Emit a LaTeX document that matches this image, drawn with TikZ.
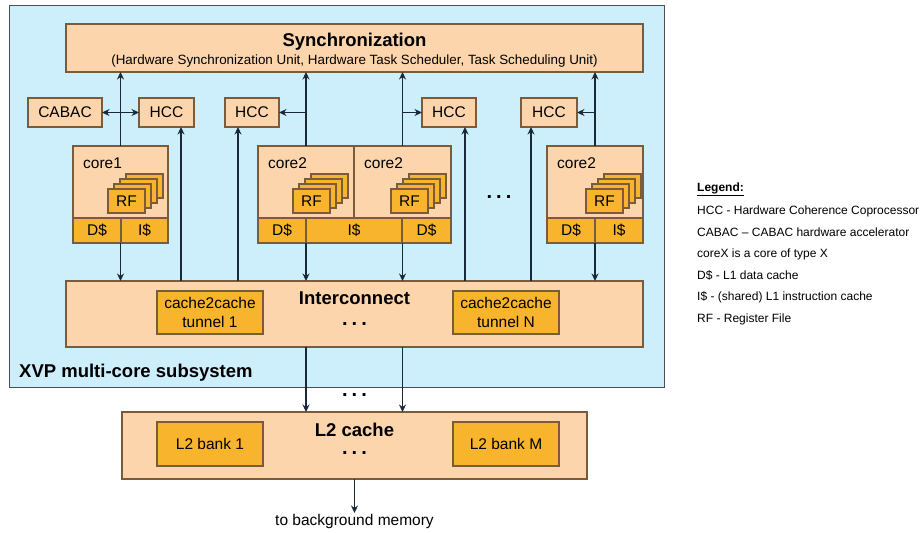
\documentclass[tikz,border=0pt]{standalone}
\usepackage{fontspec}
\setmainfont{Liberation Sans}
\usetikzlibrary{arrows.meta,calc}
\definecolor{bluebg}{HTML}{CDEEFB}
\definecolor{peach}{HTML}{FCD5AC}
\definecolor{orng}{HTML}{F9B42D}
\definecolor{bord}{HTML}{7A5C3C}
\definecolor{arrc}{HTML}{1B2838}
\definecolor{outbord}{HTML}{4A4F55}
\begin{document}
\begin{tikzpicture}[x=1pt,y=-1pt,
  pbox/.style={draw=bord, fill=peach, line width=1.1pt, inner sep=0pt, outer sep=0pt, anchor=north west},
  obox/.style={draw=bord, fill=orng, line width=1.1pt, inner sep=0pt, outer sep=0pt, anchor=north west},
  lbl/.style={font=\fontsize{15.5}{19}\selectfont},
  big/.style={font=\bfseries\fontsize{18.5}{22}\selectfont},
  dots/.style={font=\bfseries\fontsize{20}{22}\selectfont, inner sep=0pt},
  leg/.style={font=\fontsize{12}{14}\selectfont, anchor=west, inner sep=0pt},
  arr/.style={draw=arrc, line width=1.6pt, -{Stealth[length=7.5pt,width=7pt]}},
  darr/.style={draw=arrc, line width=1.6pt, {Stealth[length=7.5pt,width=7pt]}-{Stealth[length=7.5pt,width=7pt]}},
  ]
\useasboundingbox (0,0) rectangle (922,533);
% outer subsystem
\node[draw=outbord, fill=bluebg, line width=1pt, inner sep=0pt, outer sep=0pt, anchor=north west,
  minimum width=655pt, minimum height=382pt] (xvp) at (9,5) {};
\node[big, anchor=west, inner sep=0pt] (xvpl) at (19,373) {XVP multi-core subsystem};
% synchronization
\node[pbox, minimum width=577pt, minimum height=48pt] (sync) at (66,24) {};
\node[big, inner sep=0pt] (synct) at (354.5,42) {Synchronization};
\node[font=\fontsize{13.4}{16}\selectfont, inner sep=0pt] (syncs) at (354.5,61)
  {(Hardware Synchronization Unit, Hardware Task Scheduler, Task Scheduling Unit)};
% CABAC and HCCs
\node[pbox, lbl, minimum width=74pt, minimum height=29pt] (cabac) at (28,98) {CABAC};
\node[pbox, lbl, minimum width=55pt, minimum height=29pt] (hcc1) at (139,98) {HCC};
\node[pbox, lbl, minimum width=54pt, minimum height=29pt] (hcc2) at (225,98) {HCC};
\node[pbox, lbl, minimum width=54pt, minimum height=29pt] (hcc3) at (422,98) {HCC};
\node[pbox, lbl, minimum width=56pt, minimum height=29pt] (hcc4) at (521,98) {HCC};
% cores
\node[pbox, minimum width=95pt, minimum height=97pt] (core1) at (73,146) {};
\node[pbox, minimum width=96pt, minimum height=97pt] (core2a) at (258,146) {};
\node[pbox, minimum width=97pt, minimum height=97pt] (core2b) at (354,146) {};
\node[pbox, minimum width=96pt, minimum height=97pt] (core3) at (547,146) {};
\node[lbl, anchor=west, inner sep=0pt] (core1l) at (83,163) {core1};
\node[lbl, anchor=west, inner sep=0pt] (core2al) at (268,163) {core2};
\node[lbl, anchor=west, inner sep=0pt] (core2bl) at (364,163) {core2};
\node[lbl, anchor=west, inner sep=0pt] (core3l) at (557,163) {core2};
% cache strips
\node[obox, lbl, minimum width=48pt, minimum height=25pt] (c1d) at (73,218) {D\$};
\node[obox, lbl, minimum width=47pt, minimum height=25pt] (c1i) at (121,218) {I\$};
\node[obox, lbl, minimum width=48pt, minimum height=25pt] (c2d) at (258,218) {D\$};
\node[obox, lbl, minimum width=96pt, minimum height=25pt] (c2i) at (306,218) {I\$};
\node[obox, lbl, minimum width=49pt, minimum height=25pt] (c2e) at (402,218) {D\$};
\node[obox, lbl, minimum width=48pt, minimum height=25pt] (c3d) at (547,218) {D\$};
\node[obox, lbl, minimum width=48pt, minimum height=25pt] (c3i) at (595,218) {I\$};
% register file stacks
\foreach \rx/\nm in {108/rf1, 293/rf2, 391/rf3, 586/rf4}{
  \foreach \k in {3,2,1}{
    \node[obox, minimum width=37pt, minimum height=24pt] (\nm b\k) at (\rx+6*\k,189-5*\k) {};
  }
  \node[obox, lbl, minimum width=37pt, minimum height=24pt] (\nm) at (\rx,189) {RF};
}
\node[dots] (cdots) at (499,197) {.\hspace{4pt}.\hspace{4pt}.};
% interconnect
\node[pbox, minimum width=577pt, minimum height=66pt] (ic) at (66,281) {};
\node[big, inner sep=0pt] (icl) at (354.5,298) {Interconnect};
\node[dots] (icdots) at (354.5,324) {.\hspace{4pt}.\hspace{4pt}.};
\node[obox, lbl, align=center, minimum width=106pt, minimum height=43pt] (t1) at (157,291) {cache2cache\\tunnel 1};
\node[obox, lbl, align=center, minimum width=106pt, minimum height=43pt] (tn) at (453,291) {cache2cache\\tunnel N};
% L2
\node[pbox, minimum width=465pt, minimum height=67pt] (l2) at (122,412) {};
\node[big, inner sep=0pt] (l2l) at (354.5,430) {L2 cache};
\node[dots] (l2dots) at (354.5,453) {.\hspace{4pt}.\hspace{4pt}.};
\node[obox, lbl, minimum width=106pt, minimum height=44pt] (b1) at (157,422) {L2 bank 1};
\node[obox, lbl, minimum width=106pt, minimum height=44pt] (bm) at (453,422) {L2 bank M};
\node[dots] (midots) at (354.5,395) {.\hspace{4pt}.\hspace{4pt}.};
\node[font=\fontsize{15.5}{18}\selectfont, inner sep=1pt, anchor=north] (bg) at (354.5,513) {to background memory};
% coordinates for HCC feeds
\coordinate (xh1) at (181,0);
\coordinate (xh2) at (238,0);
\coordinate (xh3) at (465,0);
\coordinate (xh4) at (531,0);
% arrows to synchronization
\draw[arr] (core1.north) -- (core1.north |- sync.south);
\draw[arr] (core2a.north) -- (core2a.north |- sync.south);
\draw[arr] (core2b.north) -- (core2b.north |- sync.south);
\draw[arr] (core3.north) -- (core3.north |- sync.south);
\draw[darr] (cabac.east) -- (hcc1.west);
\draw[arr] (core2a.north |- hcc2.east) -- (hcc2.east);
\draw[arr] (core2b.north |- hcc3.west) -- (hcc3.west);
\draw[arr] (core3.north |- hcc4.east) -- (hcc4.east);
% cores to interconnect
\draw[arr] (core1.south) -- (core1.south |- ic.north);
\draw[arr] (core2a.south) -- (core2a.south |- ic.north);
\draw[arr] (core2b.south) -- (core2b.south |- ic.north);
\draw[arr] (core3.south) -- (core3.south |- ic.north);
% interconnect to HCCs
\draw[arr] (ic.north -| xh1) -- (hcc1.south -| xh1);
\draw[arr] (ic.north -| xh2) -- (hcc2.south -| xh2);
\draw[arr] (ic.north -| xh3) -- (hcc3.south -| xh3);
\draw[arr] (ic.north -| xh4) -- (hcc4.south -| xh4);
% interconnect to L2
\draw[arr] (core2a.south |- ic.south) -- (core2a.south |- l2.north);
\draw[arr] (core2b.south |- ic.south) -- (core2b.south |- l2.north);
\draw[arr] (l2.south) -- (bg.north);
% legend
\node[leg, font=\bfseries\fontsize{12}{14}\selectfont] (lg0) at (697,189) {\underline{Legend:}};
\node[leg] (lg1) at (697,211) {HCC - Hardware Coherence Coprocessor};
\node[leg] (lg2) at (697,232) {CABAC – CABAC hardware accelerator};
\node[leg] (lg3) at (697,254) {coreX is a core of type X};
\node[leg] (lg4) at (697,275) {D\$ - L1 data cache};
\node[leg] (lg5) at (697,297) {I\$ - (shared) L1 instruction cache};
\node[leg] (lg6) at (697,319) {RF - Register File};
\end{tikzpicture}
\end{document}
